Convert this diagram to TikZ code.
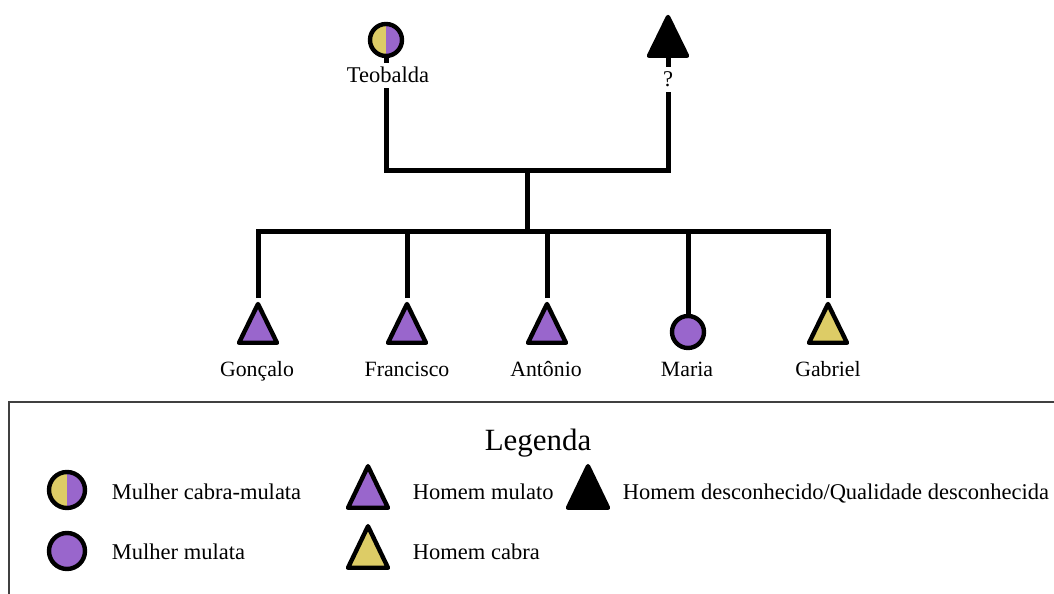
\documentclass[tikz,border=0pt]{standalone}
\usepackage{fontspec}
\setmainfont{Liberation Serif}
\usetikzlibrary{shapes.geometric}
\definecolor{mulata}{HTML}{9966CC}
\definecolor{cabra}{HTML}{DDCC66}

\begin{document}
\begin{tikzpicture}[
  linha/.style={line width=0.125cm},
  mulher/.style={circle, draw, line width=0.11cm, minimum size=0.8cm, inner sep=0pt},
  homem/.style={isosceles triangle, isosceles triangle stretches, shape border rotate=90,
    draw, line width=0.11cm, line join=round, minimum width=0.95cm, minimum height=0.97cm,
    inner sep=0pt, anchor=south},
  metade/.style={fill=mulata, path picture={\fill[cabra] (path picture bounding box.south west)
    rectangle (path picture bounding box.north);}},
  nome/.style={anchor=base, font=\fontsize{15.5}{18}\selectfont},
  texto/.style={anchor=base west, font=\fontsize{16}{19}\selectfont},
  moldura/.style={line width=0.05cm, black!75}
]
\useasboundingbox (0,0) rectangle (26.35,14.85);

% pais
\node [mulher, metade] (teobalda) at (9.65,13.85) {};
\node [homem, fill=black] (pai) at (16.7,13.4) {};
\coordinate (casal) at (13.175,10.575);
\coordinate (irmaos) at (13.175,9.05);

% filhos
\node [homem, fill=mulata] (goncalo) at (6.45,6.225) {};
\node [homem, fill=mulata] (francisco) at (10.175,6.225) {};
\node [homem, fill=mulata] (antonio) at (13.675,6.225) {};
\node [mulher, fill=mulata] (maria) at (17.2,6.55) {};
\node [homem, fill=cabra] (gabriel) at (20.7,6.225) {};

% linhas
\draw [linha] (teobalda) |- (casal) -| (pai);
\draw [linha] (casal) -- (irmaos);
\draw [linha] (goncalo) |- (irmaos) -| (gabriel);
\foreach \f in {francisco,antonio,maria}
  \draw [linha] (\f) -- (\f |- irmaos);

% nomes
\node [nome, fill=white, font=\fontsize{16}{19}\selectfont] (nteobalda) at (9.7,12.775) {Teobalda};
\node [nome, fill=white, font=\fontsize{16}{19}\selectfont] (npai) at (16.7,12.675) {?};
\node [nome] (ngoncalo) at (6.425,5.425) {Gonçalo};
\node [nome] (nfrancisco) at (10.175,5.425) {Francisco};
\node [nome] (nantonio) at (13.65,5.425) {Antônio};
\node [nome] (nmaria) at (17.175,5.425) {Maria};
\node [nome] (ngabriel) at (20.7,5.425) {Gabriel};

% legenda
\draw [moldura] (0.225,0) |- (26.35,4.8);
\node [anchor=base, font=\fontsize{22}{26}\selectfont] (titulo) at (13.45,3.575) {Legenda};
\node [mulher, metade, minimum size=0.9cm] (lcabramulata) at (1.675,2.6) {};
\node [mulher, fill=mulata, minimum size=0.9cm] (lmulata) at (1.675,1.075) {};
\node [homem, fill=mulata, minimum width=1.0cm, minimum height=1.04cm] (lmulato) at (9.2,2.1) {};
\node [homem, fill=cabra, minimum width=1.0cm, minimum height=1.04cm] (lcabra) at (9.2,0.6) {};
\node [homem, fill=black, minimum width=1.0cm, minimum height=1.04cm] (ldesc) at (14.7,2.1) {};
\node [texto] (tcabramulata) at (2.675,2.35) {Mulher cabra-mulata};
\node [texto] (tmulata) at (2.675,0.85) {Mulher mulata};
\node [texto] (tmulato) at (10.2,2.35) {Homem mulato};
\node [texto] (tcabra) at (10.2,0.85) {Homem cabra};
\node [texto] (tdesc) at (15.45,2.35) {Homem desconhecido/Qualidade desconhecida};

\end{tikzpicture}
\end{document}
